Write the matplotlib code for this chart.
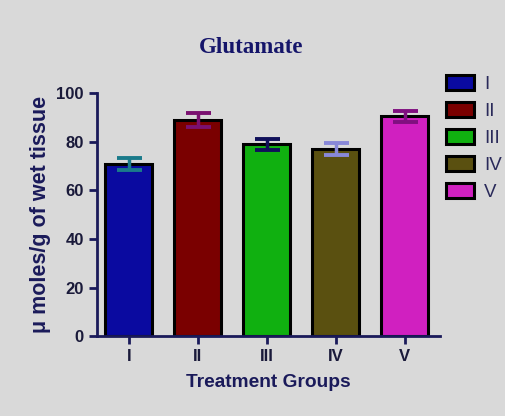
import matplotlib.pyplot as plt
import numpy as np

# data
groups = ['I', 'II', 'III', 'IV', 'V']
means = [71.0, 89.0, 79.0, 77.0, 90.5]
errs = [2.5, 2.8, 2.2, 2.5, 2.3]
bar_colors = ['#0a0aa0', '#7a0000', '#10b010', '#5a5010', '#d020c0']
err_colors = ['#1a7a8a', '#7a1070', '#10105a', '#8888d8', '#801080']
yticks = [0, 20, 40, 60, 80, 100]

navy = '#1a1a5a'
bg = '#d9d9d9'

fig = plt.figure(figsize=(5.05, 4.16), dpi=100)
fig.patch.set_facecolor(bg)
ax = fig.add_axes([0.192, 0.192, 0.679, 0.584])
ax.set_facecolor(bg)

x = np.arange(len(groups))
bars = ax.bar(x, means, width=0.69, color=bar_colors, edgecolor='black',
              linewidth=2.2, label=groups, zorder=2)
for xi, m, e, c in zip(x, means, errs, err_colors):
    ax.errorbar(xi, m, yerr=e, color=c, capsize=9, capthick=2.8,
                elinewidth=2.5, zorder=3)

ax.set_xlim(-0.46, 4.51)
ax.set_ylim(0, 100)
ax.set_yticks(yticks)
ax.set_xticks(x)
ax.set_xticklabels(groups)
for s in ['top', 'right']:
    ax.spines[s].set_visible(False)
for s in ['left', 'bottom']:
    ax.spines[s].set_color(navy)
    ax.spines[s].set_linewidth(2)
ax.tick_params(colors=navy, width=2, length=6, direction='out')
for lab in ax.get_xticklabels() + ax.get_yticklabels():
    lab.set_fontweight('bold')
    lab.set_fontsize(12)
    lab.set_color('#1a1a3a')
    lab.set_family('Liberation Sans')

ax.set_ylabel('μ moles/g of wet tissue', fontsize=15.5, fontweight='bold',
              color=navy, family='Liberation Sans', labelpad=4)
ax.set_xlabel('Treatment Groups', fontsize=13.8, fontweight='bold',
              color=navy, family='Liberation Sans', labelpad=7)

fig.text(0.497, 0.887, 'Glutamate', ha='center', va='center', fontsize=16.5,
         fontweight='bold', color='#15156a', family='Liberation Serif')

leg = ax.legend(handles=bars, labels=groups, loc='upper left',
                bbox_to_anchor=(0.995, 1.105), frameon=False,
                prop={'family': 'Liberation Sans', 'size': 13.5},
                handlelength=1.5, handleheight=0.8, labelspacing=0.5,
                handletextpad=0.55, borderaxespad=0)
for t in leg.get_texts():
    t.set_color('#2a2a5a')

fig.savefig('out.png', dpi=100, facecolor=bg)
